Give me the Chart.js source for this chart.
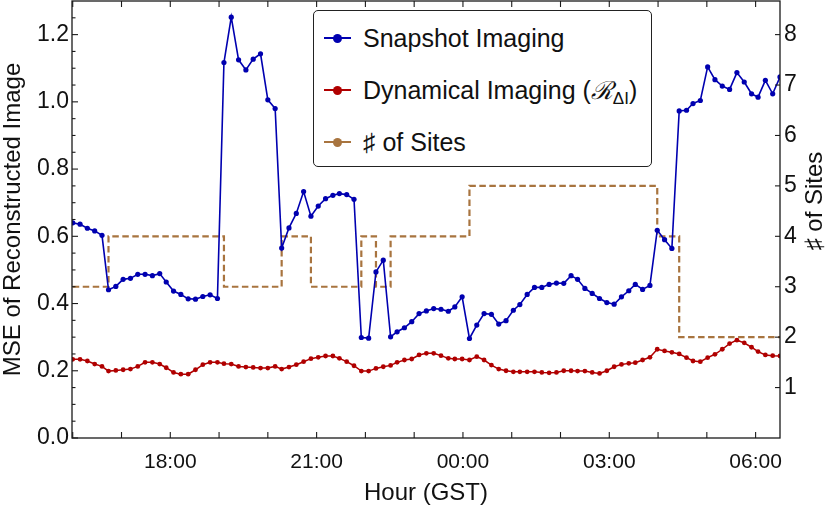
<!DOCTYPE html>
<html>
<head>
<meta charset="utf-8">
<script src="https://cdn.jsdelivr.net/npm/chart.js@4.4.1/dist/chart.umd.min.js"></script>
<style>
  html, body { margin: 0; padding: 0; background: #fff; }
  #wrap { position: relative; width: 830px; height: 511px; }
  #legend {
    position: absolute; left: 313px; top: 10px; width: 339px; height: 157px;
    box-sizing: border-box; border: 1.2px solid #222; border-radius: 5px; background: #fff;
    font-family: "Liberation Sans", Arial, sans-serif; font-size: 25px; color: #111;
  }
  .legend-row { position: absolute; left: 0; width: 100%; height: 30px; margin-top: -15px; white-space: nowrap; line-height: 30px; }
  .legend-mark { position: absolute; left: 10px; top: 14px; width: 27px; height: 2px; }
  .legend-mark::after {
    content: ""; position: absolute; left: 9px; top: -3.5px; width: 9px; height: 9px;
    border-radius: 50%; background: inherit;
  }
  .legend-text { position: absolute; left: 49px; top: 0; }
  .cal { font-family: "DejaVu Serif", serif; font-style: italic; }
  .legend-text sub { font-size: 17px; vertical-align: -5px; line-height: 0; }
</style>
</head>
<body>
<div id="wrap">
  <canvas id="mse-chart" width="830" height="511"></canvas>
  <div id="legend">
    <div class="legend-row" style="top:27px"><span class="legend-mark" style="background:#0000b0"></span><span class="legend-text">Snapshot Imaging</span></div>
    <div class="legend-row" style="top:79px"><span class="legend-mark" style="background:#b00000"></span><span class="legend-text">Dynamical Imaging (<span class="cal">ℛ</span><sub>ΔI</sub>)</span></div>
    <div class="legend-row" style="top:131px"><span class="legend-mark" style="background:#a8743f"></span><span class="legend-text">♯ of Sites</span></div>
  </div>
</div>
<script>
// scan times (GST), one MSE value per scan
const sampleTimes = [
  "16:00", "16:09", "16:18", "16:27", "16:36", "16:44", "16:53", "17:02", "17:11", "17:20",
  "17:29", "17:38", "17:47", "17:55", "18:04", "18:13", "18:22", "18:31", "18:40", "18:49",
  "18:58", "19:06", "19:15", "19:24", "19:33", "19:42", "19:51", "20:00", "20:09", "20:17",
  "20:26", "20:35", "20:44", "20:53", "21:02", "21:11", "21:20", "21:28", "21:37", "21:46",
  "21:55", "22:04", "22:13", "22:22", "22:31", "22:39", "22:48", "22:57", "23:06", "23:15",
  "23:24", "23:33", "23:42", "23:50", "23:59", "00:08", "00:17", "00:26", "00:35", "00:44",
  "00:53", "01:02", "01:10", "01:19", "01:28", "01:37", "01:46", "01:55", "02:04", "02:13",
  "02:21", "02:30", "02:39", "02:48", "02:57", "03:06", "03:15", "03:24", "03:32", "03:41",
  "03:50", "03:59", "04:08", "04:17", "04:26", "04:35", "04:43", "04:52", "05:01", "05:10",
  "05:19", "05:28", "05:37", "05:46", "05:55", "06:03", "06:12", "06:21", "06:30"
];

const snapshotMSE = [
  0.640, 0.636, 0.624, 0.616, 0.603, 0.441, 0.451, 0.472, 0.475, 0.487,
  0.487, 0.483, 0.489, 0.464, 0.437, 0.427, 0.414, 0.413, 0.421, 0.426,
  0.415, 1.117, 1.252, 1.125, 1.095, 1.127, 1.143, 1.006, 0.980, 0.565,
  0.625, 0.668, 0.733, 0.660, 0.690, 0.712, 0.722, 0.727, 0.724, 0.710,
  0.299, 0.297, 0.494, 0.529, 0.301, 0.316, 0.328, 0.346, 0.370, 0.378,
  0.385, 0.383, 0.377, 0.390, 0.420, 0.296, 0.336, 0.370, 0.368, 0.339,
  0.349, 0.380, 0.397, 0.427, 0.448, 0.448, 0.457, 0.461, 0.460, 0.483,
  0.472, 0.445, 0.430, 0.415, 0.403, 0.398, 0.420, 0.438, 0.457, 0.442,
  0.454, 0.618, 0.590, 0.564, 0.973, 0.975, 0.995, 1.004, 1.104, 1.066,
  1.047, 1.037, 1.087, 1.059, 1.024, 1.014, 1.064, 1.024, 1.074
];

const dynamicalMSE = [
  0.234, 0.234, 0.229, 0.220, 0.213, 0.199, 0.201, 0.203, 0.205, 0.213,
  0.225, 0.225, 0.220, 0.209, 0.195, 0.190, 0.190, 0.203, 0.218, 0.225,
  0.225, 0.221, 0.220, 0.213, 0.211, 0.210, 0.208, 0.208, 0.213, 0.205,
  0.211, 0.218, 0.227, 0.236, 0.240, 0.244, 0.244, 0.237, 0.227, 0.215,
  0.199, 0.199, 0.207, 0.212, 0.216, 0.225, 0.232, 0.235, 0.247, 0.252,
  0.252, 0.245, 0.237, 0.235, 0.235, 0.232, 0.242, 0.232, 0.217, 0.205,
  0.200, 0.197, 0.197, 0.197, 0.197, 0.195, 0.194, 0.195, 0.200, 0.200,
  0.199, 0.199, 0.195, 0.192, 0.200, 0.212, 0.219, 0.222, 0.224, 0.232,
  0.240, 0.264, 0.259, 0.255, 0.250, 0.239, 0.229, 0.227, 0.239, 0.249,
  0.264, 0.281, 0.291, 0.283, 0.270, 0.257, 0.247, 0.245, 0.244
];

// number of participating sites, given where it changes
const siteChangeTimes = ["16:00", "16:44", "19:06", "20:17", "20:53", "21:55", "22:13", "22:31", "00:08", "03:59", "04:26", "06:30"];
const siteCounts = [3, 4, 3, 4, 3, 4, 3, 4, 5, 4, 2, 2];

const labeledHours = [18, 21, 24, 27, 30];
const mseTicks = [0, 0.2, 0.4, 0.6, 0.8, 1.0, 1.2];
const siteTicks = [1, 2, 3, 4, 5, 6, 7, 8];

const BLUE = "#0000b0";
const RED = "#b00000";
const BROWN = "#a8743f";
const FONT = "'Liberation Sans', Arial, sans-serif";

function toHours(t) {
  const [h, m] = t.split(":").map(Number);
  const hours = h + m / 60;
  return hours < 12 ? hours + 24 : hours;
}

function toPoints(times, values) {
  return times.map((t, i) => ({ x: toHours(t), y: values[i] }));
}

// keep the plot area fixed: no extra room for half-labels at the ends
function fixSize(prop, size) {
  return (s) => {
    s[prop] = size;
    s.paddingTop = 0;
    s.paddingBottom = 0;
    s.paddingLeft = 0;
    s.paddingRight = 0;
  };
}

const framePlugin = {
  id: "frame",
  afterDatasetsDraw(chart) {
    const { ctx, chartArea: a, scales } = chart;
    const tick = (x1, y1, x2, y2) => {
      ctx.beginPath();
      ctx.moveTo(x1, y1);
      ctx.lineTo(x2, y2);
      ctx.stroke();
    };
    ctx.save();
    ctx.strokeStyle = "#1a1a1a";
    ctx.lineWidth = 1.3;
    ctx.strokeRect(a.left, a.top, a.right - a.left, a.bottom - a.top);

    ctx.lineWidth = 1.1;
    scales.x.ticks.forEach((t) => {
      const px = scales.x.getPixelForValue(t.value);
      tick(px, a.bottom, px, a.bottom - 6);
      tick(px, a.top, px, a.top + 6);
    });
    for (let v = 0; v <= 1.3; v += 0.05) {
      const py = scales.y.getPixelForValue(v);
      const major = mseTicks.some((m) => Math.abs(m - v) < 1e-6);
      tick(a.left, py, a.left + (major ? 6 : 3.5), py);
    }
    siteTicks.forEach((v) => {
      const py = scales.y2.getPixelForValue(v);
      tick(a.right, py, a.right - 5, py);
    });
    ctx.restore();
  },
};

const titlePlugin = {
  id: "titles",
  afterDraw(chart) {
    const { ctx, chartArea: a } = chart;
    ctx.save();
    ctx.fillStyle = "#111";
    ctx.font = "24px " + FONT;
    ctx.textAlign = "center";
    ctx.textBaseline = "middle";
    ctx.fillText("Hour (GST)", (a.left + a.right) / 2, 493);

    ctx.translate(13, (a.top + a.bottom) / 2);
    ctx.rotate(-Math.PI / 2);
    ctx.fillText("MSE of Reconstructed Image", 0, 0);
    ctx.restore();

    ctx.save();
    ctx.fillStyle = "#111";
    ctx.font = "24px " + FONT;
    ctx.textAlign = "center";
    ctx.textBaseline = "middle";
    ctx.translate(815, 201);
    ctx.rotate(-Math.PI / 2);
    ctx.fillText("♯ of Sites", 0, 0);
    ctx.restore();
  },
};

const canvas = document.getElementById("mse-chart");
const ctx = canvas.getContext("2d");

new Chart(ctx, {
  type: "line",
  plugins: [framePlugin, titlePlugin],
  data: {
    datasets: [
      {
        label: "Snapshot Imaging",
        data: toPoints(sampleTimes, snapshotMSE),
        borderColor: BLUE,
        backgroundColor: BLUE,
        borderWidth: 1.6,
        pointRadius: 2.6,
        pointBorderWidth: 0,
        yAxisID: "y",
      },
      {
        label: "Dynamical Imaging",
        data: toPoints(sampleTimes, dynamicalMSE),
        borderColor: RED,
        backgroundColor: RED,
        borderWidth: 1.5,
        pointRadius: 2.4,
        pointBorderWidth: 0,
        yAxisID: "y",
      },
      {
        label: "# of Sites",
        data: toPoints(siteChangeTimes, siteCounts),
        borderColor: BROWN,
        borderWidth: 2.2,
        borderDash: [6.5, 3.5],
        pointRadius: 0,
        stepped: true,
        yAxisID: "y2",
      },
    ],
  },
  options: {
    responsive: false,
    animation: false,
    devicePixelRatio: 1,
    layout: { autoPadding: false, padding: { top: 1, left: 0, right: 0, bottom: 0 } },
    plugins: {
      legend: { display: false },
      tooltip: { enabled: false },
    },
    scales: {
      x: {
        type: "linear",
        position: "bottom",
        min: 15.985,
        max: 30.5,
        afterFit: fixSize("height", 73),
        grid: { display: false, drawTicks: false },
        border: { display: false },
        ticks: {
          stepSize: 1,
          includeBounds: false,
          autoSkip: false,
          maxRotation: 0,
          padding: 12,
          color: "#111",
          font: { family: FONT, size: 21 },
          callback: (v) => {
            if (!labeledHours.includes(v)) return "";
            return String(v % 24).padStart(2, "0") + ":00";
          },
        },
      },
      y: {
        position: "left",
        min: 0,
        max: 1.3,
        afterFit: fixSize("width", 72),
        grid: { display: false, drawTicks: false },
        border: { display: false },
        ticks: {
          stepSize: 0.2,
          includeBounds: false,
          padding: 3,
          color: "#111",
          font: { family: FONT, size: 23 },
          callback: (v) => v.toFixed(1),
        },
      },
      y2: {
        position: "right",
        min: 0,
        max: 1.3 / 0.15,
        afterFit: fixSize("width", 50),
        grid: { display: false, drawTicks: false },
        border: { display: false },
        ticks: {
          stepSize: 1,
          includeBounds: false,
          padding: 4,
          color: "#111",
          font: { family: FONT, size: 23 },
          callback: (v) => (siteTicks.includes(v) ? String(v) : null),
        },
      },
    },
  },
});
</script>
</body>
</html>
